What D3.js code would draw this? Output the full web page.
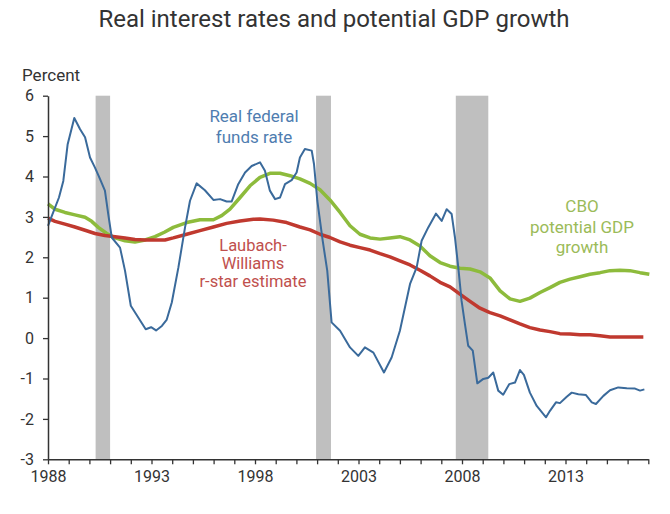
<!DOCTYPE html>
<html><head><meta charset="utf-8">
<script src="https://cdn.jsdelivr.net/npm/d3@7"></script>
<style>
html,body{margin:0;padding:0;background:#fff;}
text{font-family:Roboto,"Noto Sans",sans-serif;}
</style></head>
<body>
<svg id="chart" width="670" height="514"></svg>
<script>
const fedYears = [1988.0,1988.19,1988.53,1988.74,1988.95,1989.27,1989.55,1989.79,1990.03,1990.27,1990.51,1990.75,1990.91,1991.08,1991.48,1991.72,1992.0,1992.36,1992.72,1992.98,1993.22,1993.5,1993.73,1993.98,1994.3,1994.62,1994.86,1995.18,1995.58,1995.99,1996.31,1996.63,1996.87,1997.19,1997.52,1997.84,1998.24,1998.48,1998.72,1998.97,1999.21,1999.45,1999.77,2000.01,2000.17,2000.41,2000.74,2000.85,2001.01,2001.27,2001.49,2001.70,2002.11,2002.59,2002.99,2003.31,2003.72,2004.23,2004.60,2005.0,2005.49,2005.81,2006.05,2006.37,2006.74,2007.02,2007.26,2007.50,2007.66,2007.82,2007.98,2008.14,2008.30,2008.52,2008.74,2009.03,2009.27,2009.51,2009.75,2009.99,2010.28,2010.56,2010.80,2010.99,2011.28,2011.61,2012.06,2012.25,2012.54,2012.73,2013.06,2013.30,2013.62,2013.99,2014.27,2014.47,2014.83,2015.15,2015.55,2015.96,2016.36,2016.60,2016.81];
const fedValues = [2.78,3.03,3.48,3.89,4.80,5.45,5.17,4.97,4.47,4.22,3.94,3.65,3.07,2.49,2.24,1.67,0.80,0.51,0.22,0.27,0.19,0.30,0.45,0.88,1.75,2.74,3.40,3.83,3.66,3.42,3.44,3.38,3.38,3.81,4.10,4.26,4.35,4.14,3.65,3.44,3.48,3.81,3.91,4.10,4.47,4.68,4.64,4.31,3.40,2.41,1.67,0.39,0.18,-0.23,-0.44,-0.23,-0.36,-0.85,-0.48,0.18,1.34,1.75,2.41,2.74,3.08,2.90,3.19,3.07,2.49,1.75,0.92,0.35,-0.19,-0.31,-1.12,-1.01,-0.98,-0.85,-1.30,-1.40,-1.14,-1.10,-0.79,-0.91,-1.35,-1.68,-1.96,-1.80,-1.59,-1.61,-1.45,-1.35,-1.39,-1.41,-1.59,-1.63,-1.43,-1.29,-1.22,-1.24,-1.25,-1.30,-1.27];

const cboYears = [1988.0,1988.34,1988.82,1989.30,1989.79,1990.11,1990.43,1990.84,1991.24,1991.72,1992.2,1992.69,1993.17,1993.62,1994.05,1994.70,1995.34,1995.99,1996.39,1996.79,1997.28,1997.76,1998.24,1998.72,1999.21,1999.69,2000.17,2000.66,2001.14,2001.62,2002.11,2002.59,2003.07,2003.56,2004.04,2004.52,2005.0,2005.49,2005.97,2006.45,2006.94,2007.42,2007.90,2008.39,2008.87,2009.35,2009.84,2010.32,2010.80,2011.28,2011.77,2012.25,2012.73,2013.22,2013.70,2014.18,2014.67,2015.15,2015.63,2016.11,2016.60,2017.05];
const cboValues = [3.32,3.19,3.11,3.05,2.99,2.89,2.74,2.59,2.48,2.41,2.38,2.43,2.51,2.62,2.74,2.86,2.93,2.93,3.03,3.19,3.48,3.77,3.98,4.08,4.08,4.02,3.94,3.83,3.67,3.42,3.11,2.78,2.57,2.48,2.45,2.48,2.51,2.43,2.28,2.04,1.87,1.78,1.73,1.71,1.64,1.49,1.17,0.97,0.91,0.99,1.13,1.25,1.38,1.46,1.52,1.58,1.62,1.67,1.68,1.67,1.62,1.58];

const lwYears = [1988.0,1988.34,1988.82,1989.30,1989.79,1990.27,1990.75,1991.24,1991.72,1992.20,1992.69,1993.17,1993.65,1994.05,1994.70,1995.34,1995.99,1996.63,1997.28,1997.92,1998.24,1998.88,1999.53,2000.17,2000.66,2001.14,2001.62,2002.11,2002.59,2003.07,2003.56,2004.04,2004.52,2005.0,2005.49,2005.97,2006.45,2006.94,2007.42,2007.90,2008.39,2008.87,2009.35,2009.84,2010.32,2010.80,2011.28,2011.77,2012.25,2012.73,2013.22,2013.70,2014.18,2014.67,2015.15,2015.63,2016.11,2016.76];
const lwValues = [2.97,2.89,2.82,2.75,2.67,2.59,2.54,2.51,2.48,2.44,2.43,2.43,2.43,2.48,2.57,2.66,2.75,2.84,2.90,2.94,2.95,2.92,2.86,2.75,2.68,2.57,2.49,2.38,2.30,2.24,2.18,2.09,2.01,1.91,1.81,1.68,1.54,1.38,1.27,1.09,0.91,0.74,0.63,0.55,0.45,0.35,0.26,0.20,0.16,0.11,0.10,0.08,0.08,0.06,0.03,0.03,0.03,0.03];

const recessionStarts = [1990.3, 2000.95, 2007.7];
const recessionEnds = [1991.0, 2001.67, 2009.27];

const yTicks = [-3,-2,-1,0,1,2,3,4,5,6];
const xLabelYears = [1988,1993,1998,2003,2008,2013];

const svg = d3.select("#chart");
const x = d3.scaleLinear().domain([1988, 2017]).range([48, 648.3]);
const y = d3.scaleLinear().domain([-3, 6]).range([459.3, 95.7]);

svg.append("text").attr("x", 334).attr("y", 27).attr("text-anchor", "middle")
  .attr("font-size", 24).attr("fill", "#333").text("Real interest rates and potential GDP growth");
svg.append("text").attr("x", 22).attr("y", 81).attr("font-size", 17).attr("fill", "#333").text("Percent");

// recession bands
svg.append("g").selectAll("rect").data(recessionStarts).join("rect")
  .attr("x", (d) => x(d)).attr("width", (d, i) => x(recessionEnds[i]) - x(d))
  .attr("y", y(6)).attr("height", y(-3) - y(6)).attr("fill", "#bfbfbf");

const line = d3.line().x(d => x(d[0])).y(d => y(d[1]));
const zip = (a, b) => a.map((v, i) => [v, b[i]]);

svg.append("path").datum(zip(cboYears, cboValues)).attr("d", line)
  .attr("fill", "none").attr("stroke", "#8dbb3c").attr("stroke-width", 3.5).attr("stroke-linejoin", "round");
svg.append("path").datum(zip(lwYears, lwValues)).attr("d", line)
  .attr("fill", "none").attr("stroke", "#c0392f").attr("stroke-width", 3.5).attr("stroke-linejoin", "round");
svg.append("path").datum(zip(fedYears, fedValues)).attr("d", line)
  .attr("fill", "none").attr("stroke", "#3a6a9b").attr("stroke-width", 2).attr("stroke-linejoin", "round");

// axes
const xAxis = d3.axisBottom(x).tickValues(d3.range(1988, 2018)).tickSize(5).tickSizeOuter(0)
  .tickFormat(d => xLabelYears.includes(d) ? String(d) : "");
const gx = svg.append("g").attr("transform", `translate(0,${y(-3)})`).call(xAxis);
gx.selectAll("text").attr("font-size", 16).attr("fill", "#333").attr("dy", "0.9em");

const yAxis = d3.axisLeft(y).tickValues(yTicks).tickSize(5).tickSizeOuter(0).tickPadding(9).tickFormat(d => String(d));
const gy = svg.append("g").attr("transform", `translate(${x(1988)},0)`).call(yAxis);
gy.selectAll("text").attr("font-size", 16).attr("fill", "#333");
[gx, gy].forEach(g => {
  g.select(".domain").attr("stroke", "#333").attr("stroke-width", 1.5);
  g.selectAll(".tick line").attr("stroke", "#333").attr("stroke-width", 1.3);
  g.selectAll("text").attr("font-family", "Roboto, sans-serif");
});

// series labels
function label(lines, cx, y0, dy, size, color) {
  const t = svg.append("text").attr("text-anchor", "middle").attr("font-size", size).attr("fill", color);
  lines.forEach((s, i) => t.append("tspan").attr("x", cx).attr("y", y0 + i * dy).text(s));
}
label(["Real federal", "funds rate"], 254, 122, 21, 17, "#4f7db0");
label(["Laubach-", "Williams", "r-star estimate"], 253, 251, 18, 16.5, "#c0504d");
label(["CBO", "potential GDP", "growth"], 582, 212, 20.5, 17, "#9bbb59");
</script>
</body></html>
